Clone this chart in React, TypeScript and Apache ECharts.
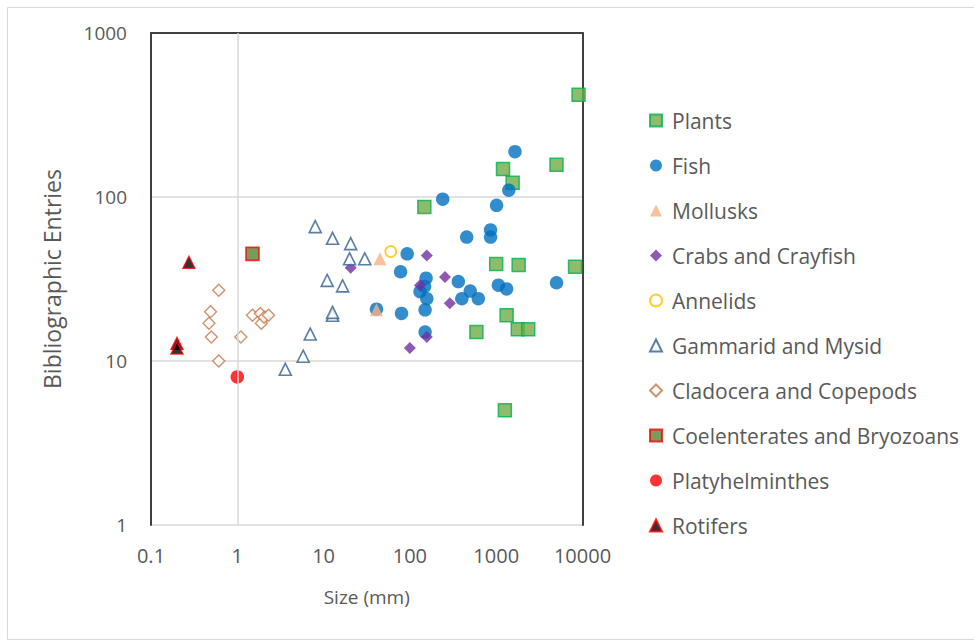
import React, { useEffect, useRef } from "react";
import * as echarts from "echarts";

const seriesNames = [
  "Plants",
  "Fish",
  "Mollusks",
  "Crabs and Crayfish",
  "Annelids",
  "Gammarid and Mysid",
  "Cladocera and Copepods",
  "Coelenterates and Bryozoans",
  "Platyhelminthes",
  "Rotifers",
];

const plants: [number, number][] = [
  [9000, 420], [1200, 148], [1550, 122], [5000, 157], [147, 87],
  [1000, 39], [1820, 38.5], [8200, 37.5], [1320, 19], [590, 15],
  [1780, 15.6], [2350, 15.6], [1260, 5],
];
const fish: [number, number][] = [
  [1650, 189], [1400, 110], [240, 97], [1010, 89], [455, 57], [860, 63],
  [860, 57], [93, 45], [78, 35], [154, 32], [148, 28.5], [131, 26.5],
  [157, 24], [150, 20.5], [80, 19.5], [150, 15], [364, 30.5], [500, 26.7],
  [400, 24], [620, 24], [1060, 29], [1320, 27.5], [5000, 30], [41, 20.7],
];
const mollusks: [number, number][] = [[45, 42], [41, 20.5]];
const crabs: [number, number][] = [
  [157, 44], [255, 32.5], [131, 29], [290, 22.5], [157, 14], [100, 12], [20.6, 37],
];
const annelids: [number, number][] = [[60, 46.5]];
const gammarid: [number, number][] = [
  [8, 66], [12.7, 56], [20.6, 52], [20, 42], [30, 42], [11, 31], [16.6, 28.7],
  [12.7, 19], [12.7, 19.8], [7, 14.6], [5.8, 10.7], [3.6, 8.9],
];
const cladocera: [number, number][] = [
  [0.61, 27], [0.49, 20], [0.47, 17], [0.5, 14], [0.61, 10], [1.1, 14],
  [1.5, 19], [1.9, 17], [1.85, 19.5], [2.05, 18.5], [2.3, 19],
];
const coelenterates: [number, number][] = [[1.5, 45]];
const platyhelminthes: [number, number][] = [[1, 8]];
const rotifers: [number, number][] = [[0.275, 40], [0.2, 12.8], [0.2, 12]];

const xTicks = [0.1, 1, 10, 100, 1000, 10000];
const yTicks = [1, 10, 100, 1000];

const FONT = "Open Sans";
const TXT = "#595959";

export default function App() {
  const ref = useRef<HTMLDivElement>(null);
  useEffect(() => {
    if (!ref.current) return;
    const chart = echarts.init(ref.current, undefined, { renderer: "svg" });
    const fmt = (v: number) => String(+Number(v).toPrecision(6));
    const mk = (
      name: string,
      data: [number, number][],
      symbol: string,
      size: number,
      itemStyle: any
    ) => ({
      name,
      type: "scatter",
      data,
      symbol,
      symbolSize: size,
      itemStyle,
      emphasis: { disabled: true },
    });
    const series: any[] = [
      mk(seriesNames[0], plants, "rect", 13, { color: "#70AD47", borderColor: "#00B050", borderWidth: 1.5 }),
      mk(seriesNames[1], fish, "circle", 13.5, { color: "#0070C0" }),
      mk(seriesNames[2], mollusks, "triangle", 13, { color: "#F4B183" }),
      mk(seriesNames[3], crabs, "diamond", 12, { color: "#7030A0" }),
      mk(seriesNames[4], annelids, "circle", 11, { color: "#ffffff", borderColor: "#FFC000", borderWidth: 1.8 }),
      mk(seriesNames[5], gammarid, "triangle", 12, { color: "#ffffff", borderColor: "#2F5F8F", borderWidth: 1.6 }),
      mk(seriesNames[6], cladocera, "diamond", 12, { color: "#ffffff", borderColor: "#C07848", borderWidth: 1.4 }),
      mk(seriesNames[7], coelenterates, "rect", 13, { color: "#548235", borderColor: "#FF0000", borderWidth: 1.6 }),
      mk(seriesNames[8], platyhelminthes, "circle", 13.5, { color: "#FF0000" }),
      mk(seriesNames[9], rotifers, "triangle", 12, { color: "#000000", borderColor: "#FF0000", borderWidth: 1.4 }),
    ];
    series[0].markLine = {
      silent: true,
      symbol: "none",
      label: { show: false },
      lineStyle: { color: "#D9D9D9", width: 1.5, type: "solid" },
      data: [{ xAxis: 1 }],
    };
    const option: any = {
      animation: false,
      backgroundColor: "#ffffff",
      grid: { left: 151, right: 391.5, top: 33, bottom: 118 },
      graphic: [
        {
          type: "rect",
          shape: { x: 7.5, y: 7.5, width: 970, height: 632 },
          style: { fill: "none", stroke: "#D9D9D9", lineWidth: 1 },
          silent: true,
          z: -1,
        },
      ],
      legend: {
        orient: "vertical",
        left: 644,
        top: 105,
        itemWidth: 12,
        itemHeight: 12,
        itemGap: 24,
        data: seriesNames,
        textStyle: { fontFamily: FONT, fontSize: 21, color: TXT, lineHeight: 20, padding: [0, 0, 0, 5] },
        selectedMode: false,
      },
      xAxis: [
        {
          type: "log",
          logBase: 10,
          min: xTicks[0],
          max: xTicks[xTicks.length - 1],
          position: "bottom",
          name: "Size (mm)",
          nameLocation: "middle",
          nameGap: 62,
          nameTextStyle: { fontFamily: FONT, fontSize: 19, color: TXT },
          axisLine: { show: false },
          axisTick: { show: false },
          splitLine: { show: false },
          axisLabel: { fontFamily: FONT, fontSize: 20, color: TXT, margin: 20, formatter: fmt },
        },
        {
          type: "log",
          logBase: 10,
          min: xTicks[0],
          max: xTicks[xTicks.length - 1],
          position: "top",
          axisLine: { show: true, lineStyle: { color: "#404040", width: 2 } },
          axisTick: { show: false },
          axisLabel: { show: false },
          splitLine: { show: false },
        },
      ],
      yAxis: [
        {
          type: "log",
          logBase: 10,
          min: yTicks[0],
          max: yTicks[yTicks.length - 1],
          position: "left",
          name: "Bibliographic Entries",
          nameLocation: "middle",
          nameGap: 88,
          nameTextStyle: { fontFamily: FONT, fontSize: 23, color: TXT },
          axisLine: { show: true, lineStyle: { color: "#404040", width: 2 } },
          axisTick: { show: false },
          splitLine: { show: true, lineStyle: { color: "#D9D9D9", width: 1.5 } },
          axisLabel: { fontFamily: FONT, fontSize: 19, color: TXT, margin: 24, formatter: fmt },
        },
        {
          type: "log",
          logBase: 10,
          min: yTicks[0],
          max: yTicks[yTicks.length - 1],
          position: "right",
          axisLine: { show: true, lineStyle: { color: "#404040", width: 2 } },
          axisTick: { show: false },
          axisLabel: { show: false },
          splitLine: { show: false },
        },
      ],
      series,
    };
    chart.setOption(option);
    return () => chart.dispose();
  }, []);
  return (
    <div
      ref={ref}
      style={{ position: "absolute", left: 0, top: 0, width: 974, height: 643 }}
    />
  );
}
